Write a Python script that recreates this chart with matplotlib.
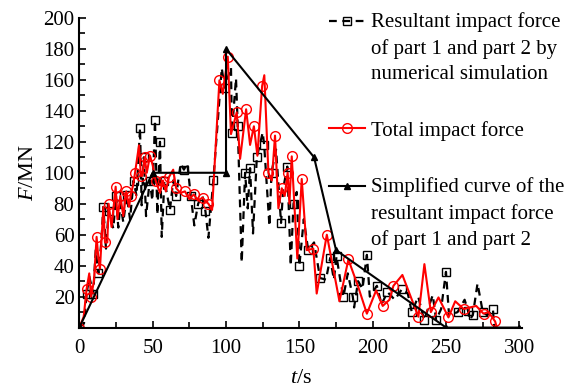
import matplotlib
matplotlib.use("Agg")
import matplotlib.pyplot as plt
from matplotlib.ticker import MultipleLocator

plt.rcParams['font.family'] = ['Liberation Serif', 'DejaVu Serif']
plt.rcParams['mathtext.fontset'] = 'custom'
plt.rcParams['mathtext.rm'] = 'Liberation Serif'
plt.rcParams['mathtext.it'] = 'Liberation Serif:italic'

# resultant force of part 1 + part 2 (numerical simulation)
sim_t = [0, 3.2, 5, 6.8, 9.5, 11.2, 13, 15, 16.4, 18.2, 20, 23.2, 25, 26.6, 28, 30,
         32.3, 34.6, 37, 39, 41.4, 42.5, 44, 45.5, 48, 49.8, 51.6, 53.2, 55, 56.2,
         58, 60, 61.8, 64, 66, 69.1, 71.3, 73.6, 76, 78.4, 81, 83.9, 86, 88, 91.4,
         97.1, 99, 103.4, 104, 106.8, 108, 110.7, 113, 114.8, 116.4, 118.4, 121,
         125, 126, 129.6, 131, 134.1, 137.5, 139, 141.8, 144.1, 146, 148.2, 150,
         153, 156, 160, 164.1, 168.1, 171, 173.5, 175.3, 178, 180, 183, 186.4,
         187.3, 190, 193, 196, 198, 202.8, 206, 210, 215, 220, 223.9, 226.6, 231,
         235, 240.9, 243.2, 246.6, 249.9, 252, 257.8, 262.6, 264.9, 266, 268.2,
         271.4, 275, 278, 281.9, 282.8]
sim_f = [0, 2.7, 22, 33, 22, 50, 35, 55, 78, 51, 75, 64, 85, 64.6, 80, 68,
         85.5, 70, 95, 85, 129, 79, 110, 72, 95, 82, 134, 73, 120, 58.6,
         95, 85, 76, 95, 85, 106, 102, 106, 85, 66, 80, 85.5, 75, 58, 95.6,
         167.6, 155, 168, 126, 161, 130, 42, 100, 77, 103, 60.8, 110,
         126, 118, 65.5, 100, 115, 67.6, 90, 104, 40, 80, 87.6, 40,
         70, 50, 55, 32, 31, 45, 31, 46, 30, 20, 35, 20,
         13, 30, 25, 47, 20, 27, 15, 23, 18, 25, 22, 10, 20,
         5, 21, 5, 12, 36, 8, 10, 18, 11, 5, 8,
         28.5, 10, 8, 12, 0]

# total impact force
tot_t = [0, 3, 5, 6.8, 8, 10, 11.8, 13, 14.1, 16.4, 17.5, 19.1, 20, 22, 24.8, 26,
         28, 30, 32, 33.9, 35, 36.8, 38, 40.7, 42, 43, 44.5, 46, 48.2, 50, 52, 55,
         57, 59, 61, 64, 66, 69, 72, 75, 78, 81, 84, 85.7, 88, 90.5, 95.5, 97.8,
         101.2, 103.4, 107.3, 109.6, 113.7, 116.4, 119, 121.4, 124.6, 126.1, 128.9,
         131.2, 133.4, 135.7, 138, 140, 142, 143.2, 144.8, 148.6, 151.6, 155, 159.5,
         161.8, 168.7, 177.3, 183.4, 190.2, 196, 202.3, 206.8, 211.4, 214.1, 220.2,
         231.1, 235.2, 239.6, 244.8, 251.6, 256.2, 262, 270.5, 275.5, 278.9, 283.4,
         284.6]
tot_f = [0, 7, 25, 35, 20, 30, 58.6, 45, 38, 78, 55, 55, 80, 65, 91, 70,
         85, 72, 88, 78, 85, 92.6, 100, 117.7, 98, 98, 110, 100, 111, 105, 95, 87,
         95, 88, 97, 102, 90, 87, 88, 83, 86, 82, 84, 82, 80, 76, 159.7, 151,
         175, 125, 139, 109, 141, 118, 130, 111, 156, 163, 100,
         95, 124, 77, 90, 85, 100, 80, 110.6, 44.6, 96, 50, 51,
         22, 60, 17, 44, 26, 9, 24, 14, 18, 27, 34,
         7, 41, 10, 19.5, 6.6, 17, 12, 14, 9, 10, 4,
         0]

# simplified curve
simp_t = [0, 50, 100, 100, 160, 175, 250, 300]
simp_f = [0, 100, 100, 180, 110, 50, 0, 0]

fig = plt.figure(figsize=(5.77, 3.90), dpi=100)
ax = fig.add_axes([0.1374, 0.160, 0.768, 0.794])

ax.plot(sim_t, sim_f, color='black', linestyle=(0, (3.5, 2.5)), linewidth=1.6,
        marker='s', markevery=2, markersize=5.5, markerfacecolor='none',
        markeredgecolor='black', markeredgewidth=1.0,
        label='Resultant impact force\nof part 1 and part 2 by\nnumerical simulation')
ax.plot(tot_t, tot_f, color='red', linewidth=1.5, marker='o', markevery=2,
        markersize=7, markerfacecolor='none', markeredgecolor='red',
        markeredgewidth=1.0, label='Total impact force')
ax.plot(simp_t, simp_f, color='black', linewidth=1.5, marker='^', markersize=5,
        label='Simplified curve of the\nresultant impact force\nof part 1 and part 2')

ax.set_xlim(0, 302)
ax.set_ylim(0, 200)
ax.xaxis.set_major_locator(MultipleLocator(50))
ax.xaxis.set_minor_locator(MultipleLocator(25))
ax.yaxis.set_major_locator(MultipleLocator(20))
ax.yaxis.set_minor_locator(MultipleLocator(10))
ax.set_yticks(range(20, 201, 20))
ax.tick_params(which='both', direction='in', labelsize=15, width=1.2)
ax.tick_params(which='major', length=5)
ax.tick_params(which='minor', length=4)
ax.tick_params(axis='x', which='both', pad=8)
for side in ('top', 'right'):
    ax.spines[side].set_visible(False)
for side in ('left', 'bottom'):
    ax.spines[side].set_linewidth(1.5)

ax.set_xlabel(r'$t$/s', fontsize=16, labelpad=8)
ax.set_ylabel(r'$F$/MN', fontsize=16, labelpad=4)

leg = ax.legend(loc='upper left', bbox_to_anchor=(0.553, 0.995),
                bbox_transform=fig.transFigure, frameon=False, fontsize=15,
                handlelength=1.7, handletextpad=0.3, labelspacing=1.75,
                borderaxespad=0.1)
# looser line pitch inside each label, handle level with the first line
for handle, txt in zip(leg.legend_handles, leg.get_texts()):
    txt.set_linespacing(1.45)
    n_breaks = txt.get_text().count('\n')
    shift = n_breaks / 2 * 19.5
    handle.set_ydata([y + shift for y in handle.get_ydata()])

fig.savefig('out.png', dpi=100)
